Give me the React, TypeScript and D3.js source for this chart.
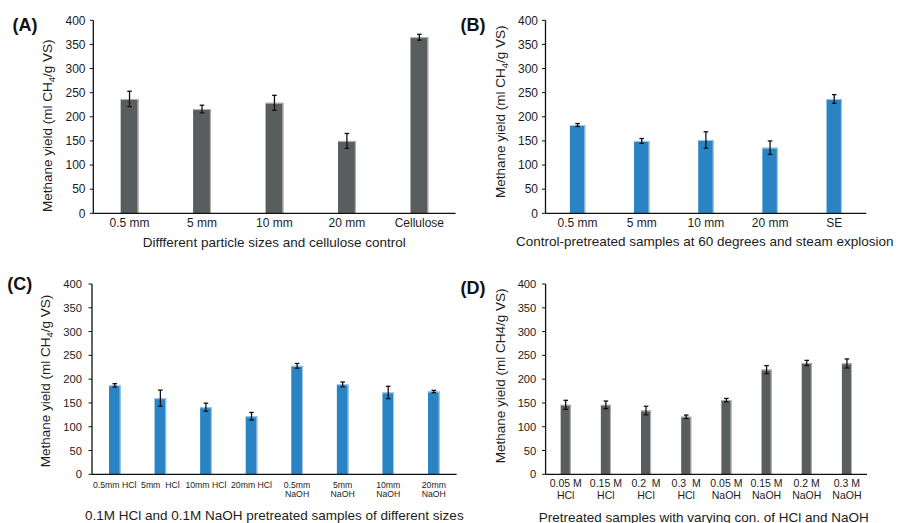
import React from "react";
import * as d3 from "d3";

const yTicks = [0, 50, 100, 150, 200, 250, 300, 350, 400];

const catsA = ["0.5 mm", "5 mm", "10 mm", "20 mm", "Cellulose"];
const valsA = [237, 216, 229, 150, 365];
const errA = [16, 8, 15.5, 15.5, 6];

const catsB = ["0.5 mm", "5 mm", "10 mm", "20 mm", "SE"];
const valsB = [183, 150, 152, 136, 237];
const errB = [3, 5, 17, 14, 9];

const catsC = ["0.5mm HCl", "5mm  HCl", "10mm HCl", "20mm HCl", "0.5mm\nNaOH", "5mm\nNaOH", "10mm\nNaOH", "20mm\nNaOH"];
const valsC = [187, 160, 141, 122, 228, 189, 172, 174];
const errC = [3.5, 17, 8.5, 8, 5, 5, 13, 2.5];

const catsD = ["0.05 M\nHCl", "0.15 M\nHCl", "0.2  M\nHCl", "0.3  M\nHCl", "0.05 M\nNaOH", "0.15 M\nNaOH", "0.2 M\nNaOH", "0.3 M\nNaOH"];
const valsD = [146, 146, 134, 121, 156, 220, 234, 233];
const errD = [9.5, 8, 9, 3.5, 3.5, 8.5, 5.5, 9.5];

const FONT = "'Liberation Sans', Arial, Helvetica, sans-serif";
const TEXT = "#1c1c1c";
const GRAY = "#595d5e";
const GRAY_EDGE = "#b8b8b8";
const BLUE = "#2a84c3";
const BLUE_EDGE = "#a9cdea";

type PanelProps = {
  label: string;
  labelX: number;
  labelY: number;
  cats: string[];
  vals: number[];
  errs: number[];
  x0: number;
  x1: number;
  y0: number;
  y1: number;
  color: string;
  edge: string;
  barRatio: number;
  tickFont: number;
  tickLabelRight: number;
  xTickFont: number;
  xTickBase: number;
  xTickLine: number;
  xTitle: string;
  xTitleX: number;
  xTitleY: number;
  yTitleX: number;
  yTitleY: number;
  subscript: boolean;
};

function Panel(p: PanelProps) {
  const x = d3.scaleBand<string>().domain(p.cats).range([p.x0, p.x1]).padding(0);
  const y = d3.scaleLinear().domain([0, 400]).range([p.y0, p.y1]);
  const bw = x.bandwidth() * p.barRatio;
  return (
    <g>
      <text x={p.labelX} y={p.labelY} fontFamily={FONT} fontWeight="bold" fontSize={18} fill="#111">
        {p.label}
      </text>
      {/* bars */}
      {p.cats.map((c, i) => {
        const cx = (x(c) as number) + x.bandwidth() / 2;
        const top = y(p.vals[i]);
        return (
          <g key={c}>
            <rect x={cx - bw / 2} y={top} width={bw} height={p.y0 - top} fill={p.color} />
            <polyline
              points={`${cx - bw / 2},${top + 0.5} ${cx + bw / 2 - 0.5},${top + 0.5} ${cx + bw / 2 - 0.5},${p.y0}`}
              fill="none"
              stroke={p.edge}
              strokeWidth={1}
            />
          </g>
        );
      })}
      {/* error bars */}
      {p.cats.map((c, i) => {
        const cx = (x(c) as number) + x.bandwidth() / 2;
        const hi = y(p.vals[i] + p.errs[i]);
        const lo = y(p.vals[i] - p.errs[i]);
        return (
          <g key={"e" + c} stroke="#111" strokeWidth={1.3}>
            <line x1={cx} x2={cx} y1={hi} y2={lo} />
            <line x1={cx - 2.3} x2={cx + 2.3} y1={hi} y2={hi} />
            <line x1={cx - 2.3} x2={cx + 2.3} y1={lo} y2={lo} />
          </g>
        );
      })}
      {/* axes */}
      <line x1={p.x0} x2={p.x0} y1={p.y1} y2={p.y0} stroke="#111" strokeWidth={1.3} />
      <line x1={p.x0} x2={p.x1} y1={p.y0} y2={p.y0} stroke="#111" strokeWidth={1.3} />
      {yTicks.map((t) => (
        <g key={"t" + t}>
          <line x1={p.x0 - 3.5} x2={p.x0} y1={y(t)} y2={y(t)} stroke="#111" strokeWidth={1} />
          <text
            x={p.tickLabelRight}
            y={y(t)}
            dy="0.36em"
            textAnchor="end"
            fontFamily={FONT}
            fontSize={p.tickFont}
            fill={TEXT}
          >
            {t}
          </text>
        </g>
      ))}
      {p.cats.map((c) => {
        const cx = (x(c) as number) + x.bandwidth() / 2;
        const lines = c.split("\n");
        return (
          <text
            key={"l" + c}
            textAnchor="middle"
            fontFamily={FONT}
            fontSize={p.xTickFont}
            fill={TEXT}
            style={{ whiteSpace: "pre" }}
          >
            {lines.map((ln, j) => (
              <tspan key={j} x={cx} y={p.xTickBase + j * p.xTickLine}>
                {ln}
              </tspan>
            ))}
          </text>
        );
      })}
      <text x={p.xTitleX} y={p.xTitleY} textAnchor="middle" fontFamily={FONT} fontSize={13.5} fill={TEXT}>
        {p.xTitle}
      </text>
      <text
        transform={`translate(${p.yTitleX},${p.yTitleY}) rotate(-90)`}
        textAnchor="middle"
        fontFamily={FONT}
        fontSize={13.5}
        fill={TEXT}
      >
        {p.subscript ? (
          <>
            <tspan>Methane yield (ml CH</tspan>
            <tspan dy={3} fontSize={9.5}>4</tspan>
            <tspan dy={-3}>/g VS)</tspan>
          </>
        ) : (
          "Methane yield (ml CH4/g VS)"
        )}
      </text>
    </g>
  );
}

export default function App() {
  return (
    <svg
      width={898}
      height={523}
      viewBox="0 0 898 523"
      style={{ position: "absolute", left: 0, top: 0, background: "#fff" }}
    >
      <rect width={898} height={523} fill="#fff" />
      <Panel
        label="(A)" labelX={12.5} labelY={30.5}
        cats={catsA} vals={valsA} errs={errA}
        x0={93.3} x1={455.6} y0={213.3} y1={20.3}
        color={GRAY} edge={GRAY_EDGE} barRatio={0.245}
        tickFont={12} tickLabelRight={85.5}
        xTickFont={12} xTickBase={226.5} xTickLine={12}
        xTitle="Diffferent particle sizes and cellulose control" xTitleX={274.3} xTitleY={246.5}
        yTitleX={52} yTitleY={125.8} subscript={true}
      />
      <Panel
        label="(B)" labelX={460.5} labelY={30.5}
        cats={catsB} vals={valsB} errs={errB}
        x0={545.5} x1={866.3} y0={213.3} y1={20.3}
        color={BLUE} edge={BLUE_EDGE} barRatio={0.24}
        tickFont={12} tickLabelRight={538}
        xTickFont={12} xTickBase={226.7} xTickLine={12}
        xTitle="Control-pretreated samples at 60 degrees and steam explosion" xTitleX={704.7} xTitleY={246}
        yTitleX={505} yTitleY={111.7} subscript={true}
      />
      <Panel
        label="(C)" labelX={7.3} labelY={290}
        cats={catsC} vals={valsC} errs={errC}
        x0={92} x1={456.6} y0={474.3} y1={284}
        color={BLUE} edge={BLUE_EDGE} barRatio={0.255}
        tickFont={11.2} tickLabelRight={82}
        xTickFont={8.7} xTickBase={487.7} xTickLine={9.2}
        xTitle="0.1M HCl and 0.1M NaOH pretreated samples of different sizes" xTitleX={274.3} xTitleY={519.5}
        yTitleX={50} yTitleY={381} subscript={true}
      />
      <Panel
        label="(D)" labelX={460.5} labelY={294}
        cats={catsD} vals={valsD} errs={errD}
        x0={545.6} x1={867} y0={474.3} y1={284}
        color={GRAY} edge={GRAY_EDGE} barRatio={0.25}
        tickFont={11.2} tickLabelRight={536.3}
        xTickFont={10.5} xTickBase={487.3} xTickLine={12}
        xTitle="Pretreated samples with varying con. of HCl and NaOH" xTitleX={703.8} xTitleY={521.5}
        yTitleX={505} yTitleY={375.8} subscript={false}
      />
    </svg>
  );
}
